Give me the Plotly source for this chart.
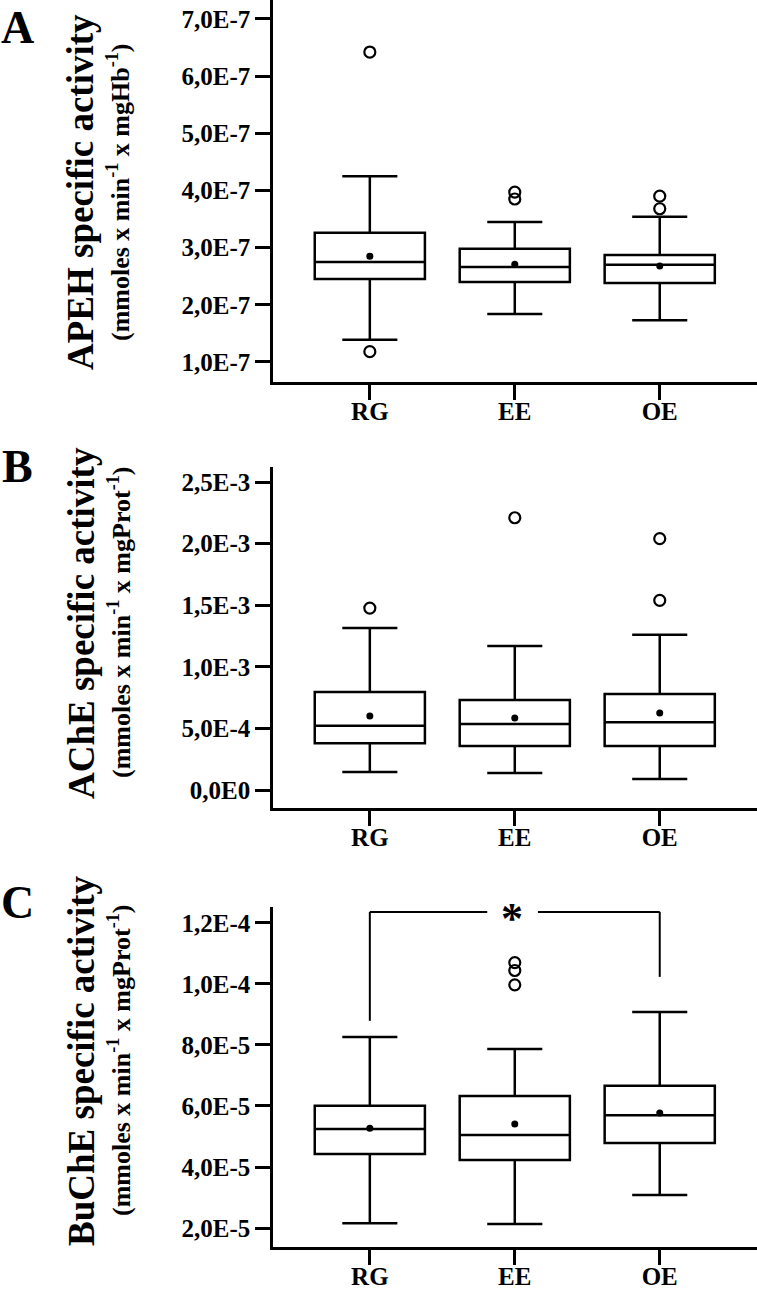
import plotly.graph_objects as go

cats = ["RG", "EE", "OE"]

# Panel A: APEH (units: mmoles x min-1 x mgHb-1)
apeh_lower = [1.39e-7, 1.84e-7, 1.73e-7]
apeh_q1 = [2.45e-7, 2.40e-7, 2.38e-7]
apeh_median = [2.75e-7, 2.66e-7, 2.70e-7]
apeh_q3 = [3.26e-7, 2.98e-7, 2.87e-7]
apeh_upper = [4.25e-7, 3.45e-7, 3.54e-7]
apeh_mean = [2.85e-7, 2.71e-7, 2.68e-7]
apeh_out_x = ["RG", "RG", "EE", "EE", "OE", "OE"]
apeh_out_y = [6.42e-7, 1.18e-7, 3.97e-7, 3.85e-7, 3.90e-7, 3.68e-7]
apeh_ticks = [1e-7, 2e-7, 3e-7, 4e-7, 5e-7, 6e-7, 7e-7]
apeh_ticktext = ["1,0E-7", "2,0E-7", "3,0E-7", "4,0E-7", "5,0E-7", "6,0E-7", "7,0E-7"]

# Panel B: AChE
ache_lower = [0.146e-3, 0.138e-3, 0.090e-3]
ache_q1 = [0.380e-3, 0.357e-3, 0.357e-3]
ache_median = [0.522e-3, 0.536e-3, 0.550e-3]
ache_q3 = [0.795e-3, 0.730e-3, 0.780e-3]
ache_upper = [1.315e-3, 1.170e-3, 1.260e-3]
ache_mean = [0.600e-3, 0.585e-3, 0.625e-3]
ache_out_x = ["RG", "EE", "OE", "OE"]
ache_out_y = [1.477e-3, 2.21e-3, 2.04e-3, 1.54e-3]
ache_ticks = [0.0, 0.5e-3, 1.0e-3, 1.5e-3, 2.0e-3, 2.5e-3]
ache_ticktext = ["0,0E0", "5,0E-4", "1,0E-3", "1,5E-3", "2,0E-3", "2,5E-3"]

# Panel C: BuChE
buche_lower = [2.16e-5, 2.13e-5, 3.08e-5]
buche_q1 = [4.43e-5, 4.23e-5, 4.79e-5]
buche_median = [5.25e-5, 5.05e-5, 5.70e-5]
buche_q3 = [6.01e-5, 6.33e-5, 6.66e-5]
buche_upper = [8.26e-5, 7.87e-5, 9.08e-5]
buche_mean = [5.27e-5, 5.41e-5, 5.77e-5]
buche_out_x = ["EE", "EE", "EE"]
buche_out_y = [10.70e-5, 10.44e-5, 9.97e-5]
buche_ticks = [2e-5, 4e-5, 6e-5, 8e-5, 10e-5, 12e-5]
buche_ticktext = ["2,0E-5", "4,0E-5", "6,0E-5", "8,0E-5", "1,0E-4", "1,2E-4"]

# significance bracket (RG vs OE)
bracket_top = 12.36e-5
bracket_left_bottom = 8.79e-5
bracket_right_bottom = 10.23e-5

W, H = 757, 1289
FONT = "Liberation Serif"

panels = [
    dict(lower=apeh_lower, q1=apeh_q1, med=apeh_median, q3=apeh_q3, upper=apeh_upper,
         mean=apeh_mean, ox=apeh_out_x, oy=apeh_out_y, ticks=apeh_ticks, tt=apeh_ticktext,
         yr=[0.65e-7, 7.33e-7], top=0, bottom=382,
         title="APEH specific activity", sub="(mmoles x min<sup>-1</sup> x mgHb<sup>-1</sup>)",
         letter="A", lety=0, letanchor="top", titley=192),
    dict(lower=ache_lower, q1=ache_q1, med=ache_median, q3=ache_q3, upper=ache_upper,
         mean=ache_mean, ox=ache_out_x, oy=ache_out_y, ticks=ache_ticks, tt=ache_ticktext,
         yr=[-0.146e-3, 2.622e-3], top=467, bottom=808,
         title="AChE specific activity", sub="(mmoles x min<sup>-1</sup> x mgProt<sup>-1</sup>)",
         letter="B", lety=466, letanchor="middle", titley=623),
    dict(lower=buche_lower, q1=buche_q1, med=buche_median, q3=buche_q3, upper=buche_upper,
         mean=buche_mean, ox=buche_out_x, oy=buche_out_y, ticks=buche_ticks, tt=buche_ticktext,
         yr=[1.38e-5, 12.52e-5], top=907, bottom=1247,
         title="BuChE specific activity", sub="(mmoles x min<sup>-1</sup> x mgProt<sup>-1</sup>)",
         letter="C", lety=902, letanchor="middle", titley=1061),
]

fig = go.Figure()
layout = dict(
    template="none",
    width=W, height=H, margin=dict(l=0, r=0, t=0, b=0, autoexpand=False),
    paper_bgcolor="white", plot_bgcolor="white", showlegend=False,
    font=dict(family=FONT, color="black"),
)
annotations = []
shapes = []

for i, p in enumerate(panels):
    n = "" if i == 0 else str(i + 1)
    xa, ya = "x" + n, "y" + n
    fig.add_trace(go.Box(
        x=cats, q1=p["q1"], median=p["med"], q3=p["q3"],
        lowerfence=p["lower"], upperfence=p["upper"],
        boxpoints=False, width=0.76, whiskerwidth=0.5,
        fillcolor="white", line=dict(color="black", width=2.5),
        xaxis=xa, yaxis=ya, hoverinfo="skip",
    ))
    fig.add_trace(go.Scatter(
        x=cats, y=p["mean"], mode="markers",
        marker=dict(color="black", size=7), xaxis=xa, yaxis=ya, hoverinfo="skip",
    ))
    fig.add_trace(go.Scatter(
        x=p["ox"], y=p["oy"], mode="markers",
        marker=dict(symbol="circle-open", color="black", size=11, line=dict(width=2.2)),
        xaxis=xa, yaxis=ya, hoverinfo="skip",
    ))
    d0 = 1 - p["bottom"] / H
    d1 = 1 - p["top"] / H
    layout["xaxis" + n] = dict(
        domain=[273 / W, 1.0], range=[-0.668, 2.671], type="category",
        showline=True, linecolor="black", linewidth=2.5,
        ticks="outside", ticklen=15, tickwidth=2.5, tickcolor="black",
        ticklabelstandoff=-10, automargin=False,
        tickfont=dict(family=FONT, size=25, color="black", weight="bold"),
        showgrid=False, zeroline=False, anchor=ya, fixedrange=True,
    )
    layout["yaxis" + n] = dict(
        domain=[d0, d1], range=p["yr"],
        tickvals=p["ticks"], ticktext=p["tt"], automargin=False,
        showline=True, linecolor="black", linewidth=2.5,
        ticks="outside", ticklen=15, tickwidth=2.5, tickcolor="black",
        tickfont=dict(family=FONT, size=25, color="black", weight="bold"),
        showgrid=False, zeroline=False, anchor=xa, fixedrange=True,
    )
    annotations.append(dict(
        text=p["title"], textangle=-90, xref="paper", yref="paper",
        x=81 / W, y=1 - p["titley"] / H, xanchor="center", yanchor="middle",
        showarrow=False, font=dict(family=FONT, size=37, color="black", weight="bold"),
    ))
    annotations.append(dict(
        text=p["sub"], textangle=-90, xref="paper", yref="paper",
        x=119 / W, y=1 - p["titley"] / H, xanchor="center", yanchor="middle",
        showarrow=False, font=dict(family=FONT, size=26, color="black", weight="bold"),
    ))
    annotations.append(dict(
        text=p["letter"], xref="paper", yref="paper",
        x=17 / W, y=1 - p["lety"] / H, xanchor="center", yanchor=p["letanchor"],
        showarrow=False, font=dict(family=FONT, size=46, color="black", weight="bold"),
    ))

# significance bracket in panel C
bl = dict(color="black", width=2)
shapes += [
    dict(type="line", xref="x3", yref="y3", x0=0, x1=0, y0=bracket_left_bottom, y1=bracket_top, line=bl),
    dict(type="line", xref="x3", yref="y3", x0=0, x1=0.81, y0=bracket_top, y1=bracket_top, line=bl),
    dict(type="line", xref="x3", yref="y3", x0=1.16, x1=2, y0=bracket_top, y1=bracket_top, line=bl),
    dict(type="line", xref="x3", yref="y3", x0=2, x1=2, y0=bracket_right_bottom, y1=bracket_top, line=bl),
]
annotations.append(dict(
    text="*", xref="x3", yref="y3", x=0.98, y=bracket_top, yshift=-7,
    xanchor="center", yanchor="middle", showarrow=False,
    font=dict(family=FONT, size=44, color="black", weight="bold"),
))

layout["annotations"] = annotations
layout["shapes"] = shapes
fig.update_layout(**layout)
fig.write_html("out.html", config={"displayModeBar": False},
               post_script="document.body.style.margin='0';")
